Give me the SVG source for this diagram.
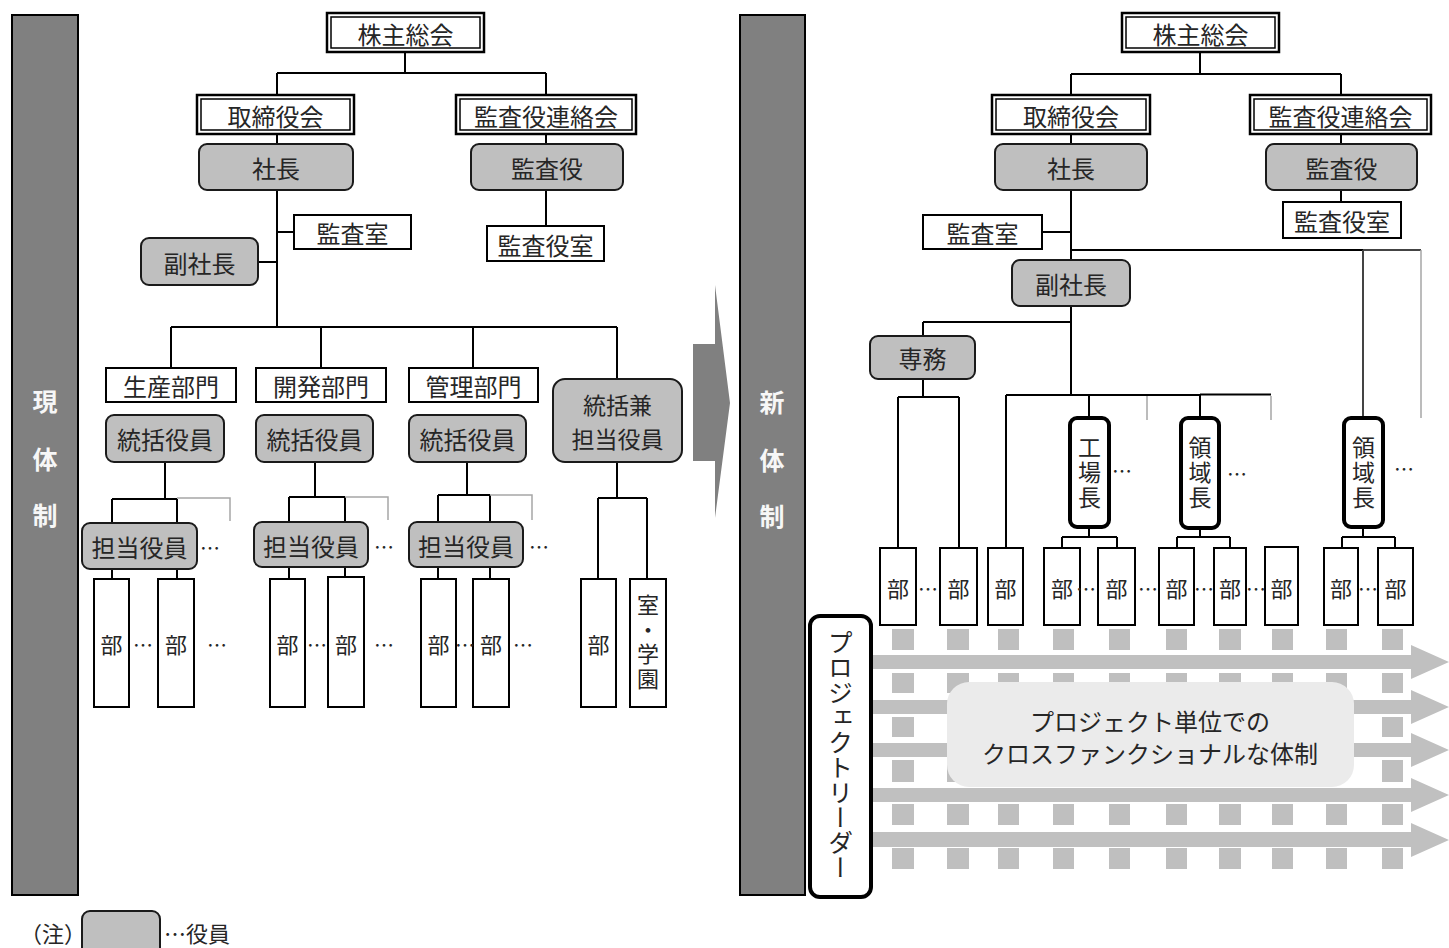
<svg xmlns="http://www.w3.org/2000/svg" width="1449" height="948" viewBox="0 0 1449 948">
<style>
.t{font-family:"Noto Sans CJK JP","Noto Sans",sans-serif;fill:#262626;text-anchor:middle;dominant-baseline:central;font-size:24px}
.bar{fill:#808080;stroke:#000;stroke-width:2}
.bt{fill:#f7f7f7;font-weight:bold;font-size:25px}
.g{fill:#bfbfbf;stroke:#1a1a1a;stroke-width:2}
.w{fill:#fff;stroke:#000;stroke-width:2}
.do{fill:#fff;stroke:#000;stroke-width:2.5}
.di{fill:none;stroke:#000;stroke-width:1.5}
.ln{stroke:#000;stroke-width:2;fill:none}
.lg{stroke:#a6a6a6;stroke-width:1.5;fill:none}
.ld{stroke:#444;stroke-width:2;fill:none}
.tk{fill:#fff;stroke:#000;stroke-width:4}
.sq{fill:#bfbfbf}
.el{font-size:20px}
.bu{font-size:22px}
.vt{writing-mode:vertical-rl;text-anchor:start;font-size:23px;letter-spacing:2px}
</style>
<rect width="1449" height="948" fill="#fff"/>

<!-- side bars -->
<g id="bar-current">
<rect class="bar" x="12" y="15" width="66" height="880"/>
<text class="t bt" x="45" y="400">現</text>
<text class="t bt" x="45" y="458">体</text>
<text class="t bt" x="45" y="514">制</text>
</g>
<g id="transition-arrow">
<polygon points="693,344 715,344 715,285 730,403 715,518 715,461 693,461" fill="#808080"/>
</g>
<g id="bar-new">
<rect class="bar" x="740" y="15" width="65" height="880"/>
<text class="t bt" x="772" y="401">新</text>
<text class="t bt" x="772" y="459">体</text>
<text class="t bt" x="772" y="515">制</text>
</g>

<!-- project bands (behind) -->
<g id="project-grid">
<g class="sq">
<rect x="892" y="629" width="22" height="21"/><rect x="947" y="629" width="22" height="21"/><rect x="998" y="629" width="21" height="21"/><rect x="1053" y="629" width="21" height="21"/><rect x="1109" y="629" width="21" height="21"/><rect x="1166" y="629" width="21" height="21"/><rect x="1219" y="629" width="22" height="21"/><rect x="1272" y="629" width="21" height="21"/><rect x="1326" y="629" width="21" height="21"/><rect x="1382" y="629" width="21" height="21"/>
<rect x="892" y="673" width="22" height="20"/><rect x="947" y="673" width="22" height="20"/><rect x="998" y="673" width="21" height="20"/><rect x="1053" y="673" width="21" height="20"/><rect x="1109" y="673" width="21" height="20"/><rect x="1166" y="673" width="21" height="20"/><rect x="1219" y="673" width="22" height="20"/><rect x="1272" y="673" width="21" height="20"/><rect x="1326" y="673" width="21" height="20"/><rect x="1382" y="673" width="21" height="20"/>
<rect x="892" y="717" width="22" height="20"/><rect x="947" y="717" width="22" height="20"/><rect x="1382" y="717" width="21" height="20"/>
<rect x="892" y="760" width="22" height="22"/><rect x="947" y="760" width="22" height="22"/><rect x="1382" y="760" width="21" height="22"/>
<rect x="892" y="804" width="22" height="21"/><rect x="947" y="804" width="22" height="21"/><rect x="998" y="804" width="21" height="21"/><rect x="1053" y="804" width="21" height="21"/><rect x="1109" y="804" width="21" height="21"/><rect x="1166" y="804" width="21" height="21"/><rect x="1219" y="804" width="22" height="21"/><rect x="1272" y="804" width="21" height="21"/><rect x="1326" y="804" width="21" height="21"/><rect x="1382" y="804" width="21" height="21"/>
<rect x="892" y="848" width="22" height="21"/><rect x="947" y="848" width="22" height="21"/><rect x="998" y="848" width="21" height="21"/><rect x="1053" y="848" width="21" height="21"/><rect x="1109" y="848" width="21" height="21"/><rect x="1166" y="848" width="21" height="21"/><rect x="1219" y="848" width="22" height="21"/><rect x="1272" y="848" width="21" height="21"/><rect x="1326" y="848" width="21" height="21"/><rect x="1382" y="848" width="21" height="21"/>
</g>
<g fill="#c0c0c0">
<polygon points="871,655 1411,655 1411,645 1449,662 1411,679 1411,669 871,669"/>
<polygon points="871,700 1411,700 1411,690 1449,707 1411,724 1411,714 871,714"/>
<polygon points="871,743 1411,743 1411,733 1449,750 1411,767 1411,757 871,757"/>
<polygon points="871,788 1411,788 1411,778 1449,795 1411,812 1411,802 871,802"/>
<polygon points="871,832 1411,832 1411,823 1449,840 1411,857 1411,847 871,847"/>
</g>
</g>
<g id="cross-functional">
<rect x="947" y="682" width="407" height="105" rx="22" fill="#ebebeb"/>
<text class="t" x="1150" y="720"><tspan x="1150" y="720">プロジェクト単位での</tspan><tspan x="1150" y="752">クロスファンクショナルな体制</tspan></text>
</g>
<g id="project-leader">
<rect class="tk" x="810" y="616" width="61" height="281" rx="10"/>
<text class="t" x="840.5" y="630" style="writing-mode:vertical-rl;text-anchor:start;font-size:25px">プロジェクトリーダー</text>
</g>

<!-- connectors -->
<g id="connectors">
<path class="ln" d="M405,52V73M277,73H546M277,73V95M546,73V95M277,134V144M546,134V144M546,190V226M277,190V327M277,232H294M258,262H277"/>
<path class="ln" d="M171,327H617M171,327V368M321,327V368M473,327V368M617,327V379"/>
<path class="ln" d="M165,462V499M112,499H177M112,499V523M177,499V523M112,569V579M177,569V579"/>
<path class="lg" d="M177,498H230V521"/>
<path class="ln" d="M315,462V497M289,497H345M289,497V522M345,497V522M289,567V579M345,567V577"/>
<path class="lg" d="M345,497H388V520"/>
<path class="ln" d="M467,462V495M438,495H490M438,495V522M490,495V522M438,567V579M490,567V579"/>
<path class="lg" d="M490,495H532V520"/>
<path class="ln" d="M617,462V498M598,498H647M598,498V579M647,498V579"/>
<path class="ln" d="M1200,52V74M1071,74H1341M1071,74V95M1341,74V95M1071,134V144M1341,134V144M1341,190V202M1071,190V260M1042,232H1071M1071,250H1363"/>
<path class="ld" d="M1363,250H1421M1363,250V418"/>
<path class="lg" d="M1421,250V418"/>
<path class="ln" d="M1071,306V395M923,322H1071M923,322V336M923,379V397M898,397H959M898,397V548M959,397V548"/>
<path class="ln" d="M1006,395H1200M1006,395V548M1089,395V418M1200,395V418"/>
<path class="ln" d="M1200,394.5H1271" stroke-width="3"/>
<path class="lg" d="M1147,396V420M1271,396V420"/>
<path class="ln" d="M1089,527V537M1062,537H1117M1062,537V548M1117,537V548"/>
<path class="ln" d="M1200,528V537M1177,537H1230M1177,537V548M1230,537V548"/>
<path class="ln" d="M1363,527V537M1342,537H1395M1342,537V548M1395,537V548"/>
</g>

<!-- left tree nodes -->
<g id="L-shareholders"><rect class="do" x="327" y="13" width="157" height="39"/><rect class="di" x="331" y="17" width="149" height="31"/><text class="t" x="405.5" y="33">株主総会</text></g>
<g id="L-board"><rect class="do" x="197" y="95" width="157" height="39"/><rect class="di" x="201" y="99" width="149" height="31"/><text class="t" x="275.5" y="115">取締役会</text></g>
<g id="L-auditboard"><rect class="do" x="456" y="95" width="180" height="39"/><rect class="di" x="460" y="99" width="172" height="31"/><text class="t" x="546" y="115">監査役連絡会</text></g>
<g id="L-president"><rect class="g" x="199" y="144" width="154" height="46" rx="8"/><text class="t" x="276" y="167">社長</text></g>
<g id="L-auditor"><rect class="g" x="471" y="144" width="152" height="46" rx="8"/><text class="t" x="547" y="167">監査役</text></g>
<g id="L-auditroom"><rect class="w" x="294" y="215" width="117" height="34"/><text class="t" x="352.5" y="232">監査室</text></g>
<g id="L-auditorroom"><rect class="w" x="487" y="226" width="117" height="35"/><text class="t" x="545.5" y="244">監査役室</text></g>
<g id="L-vp"><rect class="g" x="141" y="238" width="117" height="47" rx="8"/><text class="t" x="199.5" y="262">副社長</text></g>
<g id="L-prod"><rect class="w" x="106" y="368" width="130" height="34"/><text class="t" x="171" y="385">生産部門</text></g>
<g id="L-dev"><rect class="w" x="256" y="368" width="130" height="34"/><text class="t" x="321" y="385">開発部門</text></g>
<g id="L-mgmt"><rect class="w" x="409" y="368" width="129" height="34"/><text class="t" x="473.5" y="385">管理部門</text></g>
<g id="L-gen1"><rect class="g" x="106" y="415" width="118" height="47" rx="8"/><text class="t" x="165" y="438.5">統括役員</text></g>
<g id="L-gen2"><rect class="g" x="256" y="415" width="117" height="47" rx="8"/><text class="t" x="314.5" y="438.5">統括役員</text></g>
<g id="L-gen3"><rect class="g" x="409" y="415" width="117" height="47" rx="8"/><text class="t" x="467.5" y="438.5">統括役員</text></g>
<g id="L-gen4"><rect class="g" x="553" y="379" width="129" height="83" rx="12"/><text class="t" x="617.5" y="404" style="font-size:23px"><tspan x="617.5" y="404">統括兼</tspan><tspan x="617.5" y="438">担当役員</tspan></text></g>
<g id="L-exec1"><rect class="g" x="82" y="523" width="115" height="46" rx="8"/><text class="t" x="139.5" y="546">担当役員</text><text class="t el" x="210" y="547">…</text></g>
<g id="L-exec2"><rect class="g" x="254" y="522" width="114" height="45" rx="8"/><text class="t" x="311" y="545">担当役員</text><text class="t el" x="384" y="546">…</text></g>
<g id="L-exec3"><rect class="g" x="409" y="522" width="114" height="45" rx="8"/><text class="t" x="466" y="545">担当役員</text><text class="t el" x="539" y="546">…</text></g>
<g id="L-depts1"><rect class="w" x="94" y="579" width="35" height="128"/><rect class="w" x="158" y="579" width="36" height="128"/><text class="t bu" x="111.5" y="643">部</text><text class="t bu" x="176" y="643">部</text><text class="t el" x="143" y="644">…</text><text class="t el" x="217" y="644">…</text></g>
<g id="L-depts2"><rect class="w" x="270" y="579" width="35" height="128"/><rect class="w" x="328" y="577" width="36" height="130"/><text class="t bu" x="287.5" y="643">部</text><text class="t bu" x="346" y="643">部</text><text class="t el" x="317" y="644">…</text><text class="t el" x="384" y="644">…</text></g>
<g id="L-depts3"><rect class="w" x="421" y="579" width="35" height="128"/><rect class="w" x="473" y="579" width="36" height="128"/><text class="t bu" x="438.5" y="643">部</text><text class="t bu" x="491" y="643">部</text><text class="t el" x="465" y="644">…</text><text class="t el" x="523" y="644">…</text></g>
<g id="L-depts4"><rect class="w" x="581" y="579" width="35" height="128"/><rect class="w" x="630" y="579" width="36" height="128"/><text class="t bu" x="598.5" y="643">部</text><text class="t" x="648" y="594" style="writing-mode:vertical-rl;text-anchor:start;font-size:22px;letter-spacing:2.5px">室・学園</text></g>

<!-- right tree nodes -->
<g id="R-shareholders"><rect class="do" x="1122" y="13" width="157" height="39"/><rect class="di" x="1126" y="17" width="149" height="31"/><text class="t" x="1200.5" y="33">株主総会</text></g>
<g id="R-board"><rect class="do" x="992" y="95" width="158" height="39"/><rect class="di" x="996" y="99" width="150" height="31"/><text class="t" x="1071" y="115">取締役会</text></g>
<g id="R-auditboard"><rect class="do" x="1250" y="95" width="181" height="39"/><rect class="di" x="1254" y="99" width="173" height="31"/><text class="t" x="1340.5" y="115">監査役連絡会</text></g>
<g id="R-president"><rect class="g" x="995" y="144" width="152" height="46" rx="8"/><text class="t" x="1071" y="167">社長</text></g>
<g id="R-auditor"><rect class="g" x="1266" y="144" width="151" height="46" rx="8"/><text class="t" x="1341.5" y="167">監査役</text></g>
<g id="R-auditorroom"><rect class="w" x="1283" y="202" width="118" height="36"/><text class="t" x="1342" y="220">監査役室</text></g>
<g id="R-auditroom"><rect class="w" x="923" y="215" width="119" height="34"/><text class="t" x="982.5" y="232">監査室</text></g>
<g id="R-vp"><rect class="g" x="1012" y="260" width="118" height="46" rx="8"/><text class="t" x="1071" y="283">副社長</text></g>
<g id="R-senmu"><rect class="g" x="870" y="336" width="105" height="43" rx="8"/><text class="t" x="922.5" y="357">専務</text></g>
<g id="R-factory"><rect class="tk" x="1070" y="418" width="39" height="109" rx="7"/><text class="t vt" x="1089.5" y="435.5">工場長</text><text class="t el" x="1122" y="470">…</text></g>
<g id="R-domain1"><rect class="tk" x="1181" y="418" width="38" height="110" rx="7"/><text class="t vt" x="1200" y="436">領域長</text><text class="t el" x="1237" y="473">…</text></g>
<g id="R-domain2"><rect class="tk" x="1344" y="418" width="39" height="109" rx="7"/><text class="t vt" x="1363.5" y="435.5">領域長</text><text class="t el" x="1404" y="468">…</text></g>
<g id="R-depts">
<rect class="w" x="880" y="548" width="36" height="77"/><rect class="w" x="940" y="548" width="37" height="77"/><rect class="w" x="988" y="548" width="35" height="77"/><rect class="w" x="1044" y="548" width="36" height="77"/><rect class="w" x="1098" y="548" width="37" height="77"/><rect class="w" x="1159" y="548" width="35" height="77"/><rect class="w" x="1214" y="548" width="32" height="77"/><rect class="w" x="1265" y="547" width="33" height="78"/><rect class="w" x="1324" y="548" width="34" height="77"/><rect class="w" x="1378" y="548" width="35" height="77"/>
<text class="t bu" x="898" y="587">部</text><text class="t bu" x="958.5" y="587">部</text><text class="t bu" x="1005.5" y="587">部</text><text class="t bu" x="1062" y="587">部</text><text class="t bu" x="1116.5" y="587">部</text><text class="t bu" x="1176.5" y="587">部</text><text class="t bu" x="1230" y="587">部</text><text class="t bu" x="1281.5" y="587">部</text><text class="t bu" x="1341" y="587">部</text><text class="t bu" x="1395.5" y="587">部</text>
<text class="t el" x="928" y="588">…</text><text class="t el" x="1086" y="588">…</text><text class="t el" x="1148" y="588">…</text><text class="t el" x="1204" y="588">…</text><text class="t el" x="1256" y="588">…</text><text class="t el" x="1368" y="588">…</text>
</g>

<!-- legend -->
<g id="legend">
<text class="t" x="20" y="932" style="text-anchor:start;font-size:22px">（注）</text>
<rect class="g" x="82" y="911" width="78" height="48" rx="8"/>
<text class="t" x="164" y="932" style="text-anchor:start;font-size:22px">…役員</text>
</g>
</svg>
